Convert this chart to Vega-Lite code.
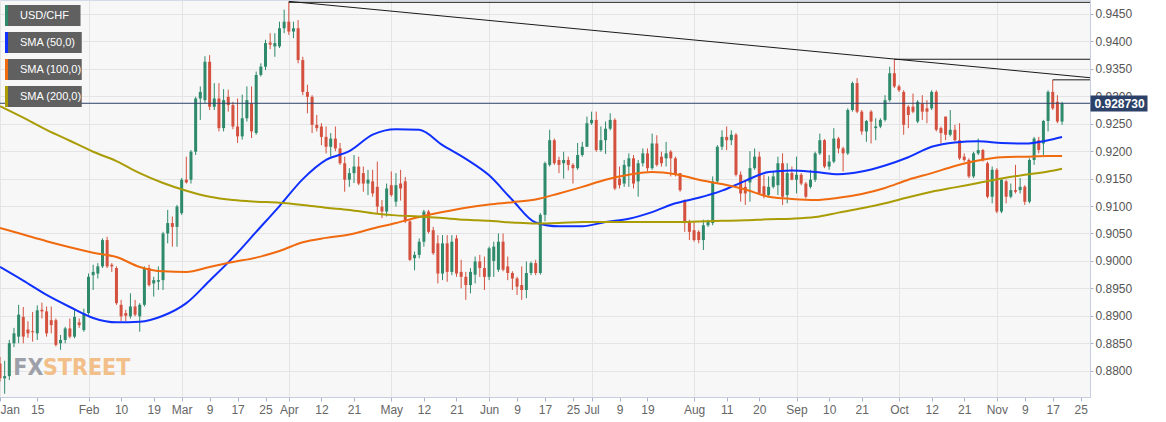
{
  "$schema": "https://vega.github.io/schema/vega-lite/v6.json",
  "width": 1090,
  "height": 397,
  "autosize": {"type": "none"},
  "padding": {"left": 0, "top": 0, "right": 76, "bottom": 25},
  "background": "#ffffff",
  "config": {
    "view": {"fill": "#f7f7f7", "stroke": "#d3d9e6"},
    "font": "Liberation Sans",
    "axis": {"labelFont": "Liberation Sans", "labelFontSize": 12, "labelColor": "#555555", "domainColor": "#c5cde0", "tickColor": "#aab3ca", "gridColor": "#e4e4e4"}
  },
  "resolve": {"axis": {"y": "independent"}},
  "datasets": {
    "ohlc": [
      {"d":"2021-01-05","o":0.8813,"h":0.8825,"l":0.8780,"c":0.8786},
      {"d":"2021-01-06","o":0.8786,"h":0.8818,"l":0.8758,"c":0.8790},
      {"d":"2021-01-07","o":0.8790,"h":0.8856,"l":0.8783,"c":0.8850},
      {"d":"2021-01-08","o":0.8850,"h":0.8878,"l":0.8843,"c":0.8868},
      {"d":"2021-01-11","o":0.8862,"h":0.8920,"l":0.8850,"c":0.8902},
      {"d":"2021-01-12","o":0.8898,"h":0.8916,"l":0.8850,"c":0.8862},
      {"d":"2021-01-13","o":0.8875,"h":0.8890,"l":0.8860,"c":0.8868},
      {"d":"2021-01-14","o":0.8872,"h":0.8907,"l":0.8853,"c":0.8870},
      {"d":"2021-01-15","o":0.8868,"h":0.8919,"l":0.8856,"c":0.8910},
      {"d":"2021-01-18","o":0.8911,"h":0.8924,"l":0.8895,"c":0.8908},
      {"d":"2021-01-19","o":0.8908,"h":0.8917,"l":0.8862,"c":0.8868},
      {"d":"2021-01-20","o":0.8892,"h":0.8917,"l":0.8868,"c":0.8883},
      {"d":"2021-01-21","o":0.8892,"h":0.8895,"l":0.8844,"c":0.8847},
      {"d":"2021-01-22","o":0.8850,"h":0.8865,"l":0.8838,"c":0.8856},
      {"d":"2021-01-25","o":0.8856,"h":0.8880,"l":0.8850,"c":0.8877},
      {"d":"2021-01-26","o":0.8877,"h":0.8895,"l":0.8859,"c":0.8862},
      {"d":"2021-01-27","o":0.8862,"h":0.8913,"l":0.8859,"c":0.8898},
      {"d":"2021-01-28","o":0.8888,"h":0.8895,"l":0.8878,"c":0.8883},
      {"d":"2021-01-29","o":0.8874,"h":0.8913,"l":0.8871,"c":0.8905},
      {"d":"2021-02-01","o":0.8905,"h":0.8977,"l":0.8902,"c":0.8971},
      {"d":"2021-02-02","o":0.8974,"h":0.8993,"l":0.8947,"c":0.8980},
      {"d":"2021-02-03","o":0.8977,"h":0.8996,"l":0.8968,"c":0.8990},
      {"d":"2021-02-04","o":0.8990,"h":0.9041,"l":0.8987,"c":0.9038},
      {"d":"2021-02-05","o":0.9038,"h":0.9044,"l":0.8987,"c":0.8990},
      {"d":"2021-02-08","o":0.8993,"h":0.8996,"l":0.8980,"c":0.8990},
      {"d":"2021-02-09","o":0.8987,"h":0.8990,"l":0.8920,"c":0.8923},
      {"d":"2021-02-10","o":0.8920,"h":0.8929,"l":0.8890,"c":0.8899},
      {"d":"2021-02-11","o":0.8905,"h":0.8911,"l":0.8890,"c":0.8900},
      {"d":"2021-02-12","o":0.8899,"h":0.8941,"l":0.8895,"c":0.8917},
      {"d":"2021-02-15","o":0.8917,"h":0.8929,"l":0.8899,"c":0.8902},
      {"d":"2021-02-16","o":0.8899,"h":0.8923,"l":0.8871,"c":0.8920},
      {"d":"2021-02-17","o":0.8920,"h":0.8990,"l":0.8917,"c":0.8987},
      {"d":"2021-02-18","o":0.8987,"h":0.8993,"l":0.8953,"c":0.8956},
      {"d":"2021-02-19","o":0.8959,"h":0.8971,"l":0.8935,"c":0.8965},
      {"d":"2021-02-22","o":0.8962,"h":0.8990,"l":0.8947,"c":0.8965},
      {"d":"2021-02-23","o":0.8965,"h":0.9053,"l":0.8947,"c":0.9050},
      {"d":"2021-02-24","o":0.9050,"h":0.9093,"l":0.9032,"c":0.9069},
      {"d":"2021-02-25","o":0.9069,"h":0.9081,"l":0.9026,"c":0.9062},
      {"d":"2021-02-26","o":0.9062,"h":0.9102,"l":0.9026,"c":0.9099},
      {"d":"2021-03-01","o":0.9087,"h":0.9151,"l":0.9084,"c":0.9148},
      {"d":"2021-03-02","o":0.9148,"h":0.9190,"l":0.9141,"c":0.9143},
      {"d":"2021-03-03","o":0.9148,"h":0.9202,"l":0.9141,"c":0.9199},
      {"d":"2021-03-04","o":0.9199,"h":0.9299,"l":0.9193,"c":0.9296},
      {"d":"2021-03-05","o":0.9296,"h":0.9318,"l":0.9257,"c":0.9308},
      {"d":"2021-03-08","o":0.9293,"h":0.9373,"l":0.9287,"c":0.9363},
      {"d":"2021-03-09","o":0.9363,"h":0.9375,"l":0.9275,"c":0.9281},
      {"d":"2021-03-10","o":0.9281,"h":0.9324,"l":0.9275,"c":0.9296},
      {"d":"2021-03-11","o":0.9296,"h":0.9324,"l":0.9236,"c":0.9242},
      {"d":"2021-03-12","o":0.9242,"h":0.9313,"l":0.9236,"c":0.9293},
      {"d":"2021-03-15","o":0.9299,"h":0.9312,"l":0.9272,"c":0.9284},
      {"d":"2021-03-16","o":0.9284,"h":0.9290,"l":0.9240,"c":0.9245},
      {"d":"2021-03-17","o":0.9245,"h":0.9296,"l":0.9215,"c":0.9227},
      {"d":"2021-03-18","o":0.9227,"h":0.9303,"l":0.9221,"c":0.9260},
      {"d":"2021-03-19","o":0.9260,"h":0.9318,"l":0.9254,"c":0.9293},
      {"d":"2021-03-22","o":0.9287,"h":0.9318,"l":0.9224,"c":0.9236},
      {"d":"2021-03-23","o":0.9233,"h":0.9345,"l":0.9230,"c":0.9339},
      {"d":"2021-03-24","o":0.9339,"h":0.9360,"l":0.9336,"c":0.9354},
      {"d":"2021-03-25","o":0.9354,"h":0.9403,"l":0.9348,"c":0.9397},
      {"d":"2021-03-26","o":0.9398,"h":0.9415,"l":0.9386,"c":0.9394},
      {"d":"2021-03-29","o":0.9391,"h":0.9415,"l":0.9372,"c":0.9397},
      {"d":"2021-03-30","o":0.9391,"h":0.9436,"l":0.9388,"c":0.9424},
      {"d":"2021-03-31","o":0.9424,"h":0.9458,"l":0.9415,"c":0.9436},
      {"d":"2021-04-01","o":0.9436,"h":0.9472,"l":0.9412,"c":0.9418},
      {"d":"2021-04-02","o":0.9418,"h":0.9436,"l":0.9406,"c":0.9424},
      {"d":"2021-04-05","o":0.9424,"h":0.9439,"l":0.9360,"c":0.9366},
      {"d":"2021-04-06","o":0.9366,"h":0.9372,"l":0.9302,"c":0.9308},
      {"d":"2021-04-07","o":0.9308,"h":0.9321,"l":0.9269,"c":0.9299},
      {"d":"2021-04-08","o":0.9299,"h":0.9302,"l":0.9233,"c":0.9248},
      {"d":"2021-04-09","o":0.9248,"h":0.9266,"l":0.9236,"c":0.9242},
      {"d":"2021-04-12","o":0.9245,"h":0.9251,"l":0.9211,"c":0.9226},
      {"d":"2021-04-13","o":0.9226,"h":0.9245,"l":0.9196,"c":0.9208},
      {"d":"2021-04-14","o":0.9208,"h":0.9233,"l":0.9190,"c":0.9223},
      {"d":"2021-04-15","o":0.9223,"h":0.9245,"l":0.9200,"c":0.9205},
      {"d":"2021-04-16","o":0.9205,"h":0.9215,"l":0.9175,"c":0.9178},
      {"d":"2021-04-19","o":0.9178,"h":0.9190,"l":0.9126,"c":0.9148},
      {"d":"2021-04-20","o":0.9148,"h":0.9169,"l":0.9135,"c":0.9160},
      {"d":"2021-04-21","o":0.9160,"h":0.9193,"l":0.9142,"c":0.9172},
      {"d":"2021-04-22","o":0.9172,"h":0.9190,"l":0.9138,"c":0.9141},
      {"d":"2021-04-23","o":0.9160,"h":0.9172,"l":0.9126,"c":0.9141},
      {"d":"2021-04-26","o":0.9141,"h":0.9166,"l":0.9120,"c":0.9148},
      {"d":"2021-04-27","o":0.9145,"h":0.9166,"l":0.9117,"c":0.9123},
      {"d":"2021-04-28","o":0.9135,"h":0.9181,"l":0.9087,"c":0.9099},
      {"d":"2021-04-29","o":0.9099,"h":0.9111,"l":0.9078,"c":0.9090},
      {"d":"2021-04-30","o":0.9090,"h":0.9141,"l":0.9081,"c":0.9132},
      {"d":"2021-05-03","o":0.9138,"h":0.9163,"l":0.9117,"c":0.9120},
      {"d":"2021-05-04","o":0.9108,"h":0.9160,"l":0.9099,"c":0.9138},
      {"d":"2021-05-05","o":0.9141,"h":0.9166,"l":0.9110,"c":0.9132},
      {"d":"2021-05-06","o":0.9145,"h":0.9153,"l":0.9069,"c":0.9072},
      {"d":"2021-05-07","o":0.9072,"h":0.9075,"l":0.9000,"c":0.9002},
      {"d":"2021-05-10","o":0.9005,"h":0.9017,"l":0.8983,"c":0.9011},
      {"d":"2021-05-11","o":0.9011,"h":0.9041,"l":0.9005,"c":0.9035},
      {"d":"2021-05-12","o":0.9035,"h":0.9093,"l":0.9026,"c":0.9090},
      {"d":"2021-05-13","o":0.9090,"h":0.9093,"l":0.9050,"c":0.9053},
      {"d":"2021-05-14","o":0.9056,"h":0.9062,"l":0.9011,"c":0.9014},
      {"d":"2021-05-17","o":0.9032,"h":0.9047,"l":0.8959,"c":0.8977},
      {"d":"2021-05-18","o":0.8977,"h":0.9047,"l":0.8965,"c":0.9032},
      {"d":"2021-05-19","o":0.9032,"h":0.9047,"l":0.8962,"c":0.8980},
      {"d":"2021-05-20","o":0.8980,"h":0.9047,"l":0.8974,"c":0.9035},
      {"d":"2021-05-21","o":0.9041,"h":0.9047,"l":0.8971,"c":0.8977},
      {"d":"2021-05-24","o":0.8980,"h":0.9002,"l":0.8950,"c":0.8971},
      {"d":"2021-05-25","o":0.8971,"h":0.8980,"l":0.8929,"c":0.8956},
      {"d":"2021-05-26","o":0.8956,"h":0.8987,"l":0.8941,"c":0.8980},
      {"d":"2021-05-27","o":0.8975,"h":0.9008,"l":0.8959,"c":0.8999},
      {"d":"2021-05-28","o":0.8999,"h":0.9011,"l":0.8971,"c":0.8987},
      {"d":"2021-05-31","o":0.8987,"h":0.9008,"l":0.8947,"c":0.8971},
      {"d":"2021-06-01","o":0.8971,"h":0.9026,"l":0.8965,"c":0.9023},
      {"d":"2021-06-02","o":0.9000,"h":0.9035,"l":0.8971,"c":0.9026},
      {"d":"2021-06-03","o":0.8984,"h":0.9050,"l":0.8980,"c":0.9035},
      {"d":"2021-06-04","o":0.9035,"h":0.9050,"l":0.8981,"c":0.8984},
      {"d":"2021-06-07","o":0.8990,"h":0.9008,"l":0.8965,"c":0.8978},
      {"d":"2021-06-08","o":0.8978,"h":0.8981,"l":0.8947,"c":0.8968},
      {"d":"2021-06-09","o":0.8968,"h":0.8971,"l":0.8938,"c":0.8953},
      {"d":"2021-06-10","o":0.8956,"h":0.8990,"l":0.8929,"c":0.8947},
      {"d":"2021-06-11","o":0.8947,"h":0.8999,"l":0.8932,"c":0.8978},
      {"d":"2021-06-14","o":0.8978,"h":0.8999,"l":0.8974,"c":0.8996},
      {"d":"2021-06-15","o":0.8996,"h":0.9002,"l":0.8974,"c":0.8978},
      {"d":"2021-06-16","o":0.8978,"h":0.9087,"l":0.8975,"c":0.9084},
      {"d":"2021-06-17","o":0.9084,"h":0.9181,"l":0.9072,"c":0.9178},
      {"d":"2021-06-18","o":0.9175,"h":0.9239,"l":0.9172,"c":0.9220},
      {"d":"2021-06-21","o":0.9220,"h":0.9223,"l":0.9175,"c":0.9178},
      {"d":"2021-06-22","o":0.9184,"h":0.9190,"l":0.9160,"c":0.9175},
      {"d":"2021-06-23","o":0.9178,"h":0.9199,"l":0.9150,"c":0.9184},
      {"d":"2021-06-24","o":0.9184,"h":0.9190,"l":0.9165,"c":0.9175},
      {"d":"2021-06-25","o":0.9175,"h":0.9178,"l":0.9141,"c":0.9169},
      {"d":"2021-06-28","o":0.9169,"h":0.9215,"l":0.9166,"c":0.9193},
      {"d":"2021-06-29","o":0.9193,"h":0.9217,"l":0.9190,"c":0.9208},
      {"d":"2021-06-30","o":0.9208,"h":0.9263,"l":0.9208,"c":0.9251},
      {"d":"2021-07-01","o":0.9251,"h":0.9272,"l":0.9248,"c":0.9257},
      {"d":"2021-07-02","o":0.9257,"h":0.9272,"l":0.9199,"c":0.9202},
      {"d":"2021-07-05","o":0.9202,"h":0.9245,"l":0.9199,"c":0.9220},
      {"d":"2021-07-06","o":0.9220,"h":0.9254,"l":0.9195,"c":0.9241},
      {"d":"2021-07-07","o":0.9241,"h":0.9269,"l":0.9238,"c":0.9257},
      {"d":"2021-07-08","o":0.9257,"h":0.9260,"l":0.9129,"c":0.9132},
      {"d":"2021-07-09","o":0.9150,"h":0.9172,"l":0.9132,"c":0.9138},
      {"d":"2021-07-12","o":0.9141,"h":0.9184,"l":0.9135,"c":0.9175},
      {"d":"2021-07-13","o":0.9172,"h":0.9196,"l":0.9135,"c":0.9187},
      {"d":"2021-07-14","o":0.9187,"h":0.9193,"l":0.9132,"c":0.9141},
      {"d":"2021-07-15","o":0.9145,"h":0.9184,"l":0.9117,"c":0.9178},
      {"d":"2021-07-16","o":0.9178,"h":0.9205,"l":0.9172,"c":0.9196},
      {"d":"2021-07-19","o":0.9196,"h":0.9205,"l":0.9163,"c":0.9169},
      {"d":"2021-07-20","o":0.9169,"h":0.9232,"l":0.9166,"c":0.9214},
      {"d":"2021-07-21","o":0.9214,"h":0.9229,"l":0.9172,"c":0.9175},
      {"d":"2021-07-22","o":0.9190,"h":0.9199,"l":0.9172,"c":0.9178},
      {"d":"2021-07-23","o":0.9187,"h":0.9217,"l":0.9172,"c":0.9196},
      {"d":"2021-07-26","o":0.9199,"h":0.9202,"l":0.9154,"c":0.9187},
      {"d":"2021-07-27","o":0.9187,"h":0.9190,"l":0.9154,"c":0.9157},
      {"d":"2021-07-28","o":0.9160,"h":0.9160,"l":0.9126,"c":0.9129},
      {"d":"2021-07-29","o":0.9110,"h":0.9112,"l":0.9053,"c":0.9069},
      {"d":"2021-07-30","o":0.9072,"h":0.9075,"l":0.9038,"c":0.9053},
      {"d":"2021-08-02","o":0.9056,"h":0.9071,"l":0.9035,"c":0.9038},
      {"d":"2021-08-03","o":0.9053,"h":0.9056,"l":0.9032,"c":0.9038},
      {"d":"2021-08-04","o":0.9038,"h":0.9075,"l":0.9020,"c":0.9065},
      {"d":"2021-08-05","o":0.9065,"h":0.9075,"l":0.9062,"c":0.9071},
      {"d":"2021-08-06","o":0.9069,"h":0.9154,"l":0.9065,"c":0.9145},
      {"d":"2021-08-09","o":0.9145,"h":0.9211,"l":0.9141,"c":0.9208},
      {"d":"2021-08-10","o":0.9208,"h":0.9238,"l":0.9202,"c":0.9226},
      {"d":"2021-08-11","o":0.9226,"h":0.9245,"l":0.9202,"c":0.9220},
      {"d":"2021-08-12","o":0.9220,"h":0.9238,"l":0.9211,"c":0.9230},
      {"d":"2021-08-13","o":0.9230,"h":0.9233,"l":0.9154,"c":0.9157},
      {"d":"2021-08-16","o":0.9157,"h":0.9163,"l":0.9108,"c":0.9123},
      {"d":"2021-08-17","o":0.9135,"h":0.9148,"l":0.9102,"c":0.9123},
      {"d":"2021-08-18","o":0.9143,"h":0.9200,"l":0.9108,"c":0.9169},
      {"d":"2021-08-19","o":0.9169,"h":0.9205,"l":0.9166,"c":0.9190},
      {"d":"2021-08-20","o":0.9190,"h":0.9199,"l":0.9120,"c":0.9123},
      {"d":"2021-08-23","o":0.9136,"h":0.9157,"l":0.9114,"c":0.9120},
      {"d":"2021-08-24","o":0.9120,"h":0.9154,"l":0.9117,"c":0.9135},
      {"d":"2021-08-25","o":0.9135,"h":0.9163,"l":0.9132,"c":0.9154},
      {"d":"2021-08-26","o":0.9138,"h":0.9190,"l":0.9120,"c":0.9178},
      {"d":"2021-08-27","o":0.9178,"h":0.9196,"l":0.9102,"c":0.9117},
      {"d":"2021-08-30","o":0.9120,"h":0.9178,"l":0.9105,"c":0.9160},
      {"d":"2021-08-31","o":0.9160,"h":0.9172,"l":0.9147,"c":0.9148},
      {"d":"2021-09-01","o":0.9148,"h":0.9190,"l":0.9123,"c":0.9157},
      {"d":"2021-09-02","o":0.9157,"h":0.9160,"l":0.9138,"c":0.9141},
      {"d":"2021-09-03","o":0.9141,"h":0.9144,"l":0.9114,"c":0.9117},
      {"d":"2021-09-06","o":0.9135,"h":0.9166,"l":0.9132,"c":0.9148},
      {"d":"2021-09-07","o":0.9148,"h":0.9199,"l":0.9144,"c":0.9196},
      {"d":"2021-09-08","o":0.9196,"h":0.9232,"l":0.9193,"c":0.9220},
      {"d":"2021-09-09","o":0.9220,"h":0.9222,"l":0.9169,"c":0.9172},
      {"d":"2021-09-10","o":0.9172,"h":0.9193,"l":0.9166,"c":0.9181},
      {"d":"2021-09-13","o":0.9181,"h":0.9242,"l":0.9178,"c":0.9223},
      {"d":"2021-09-14","o":0.9223,"h":0.9226,"l":0.9196,"c":0.9205},
      {"d":"2021-09-15","o":0.9205,"h":0.9208,"l":0.9163,"c":0.9196},
      {"d":"2021-09-16","o":0.9196,"h":0.9278,"l":0.9193,"c":0.9275},
      {"d":"2021-09-17","o":0.9275,"h":0.9327,"l":0.9272,"c":0.9324},
      {"d":"2021-09-20","o":0.9324,"h":0.9333,"l":0.9269,"c":0.9272},
      {"d":"2021-09-21","o":0.9272,"h":0.9275,"l":0.9230,"c":0.9236},
      {"d":"2021-09-22","o":0.9236,"h":0.9257,"l":0.9217,"c":0.9255},
      {"d":"2021-09-23","o":0.9272,"h":0.9275,"l":0.9214,"c":0.9254},
      {"d":"2021-09-24","o":0.9242,"h":0.9260,"l":0.9220,"c":0.9245},
      {"d":"2021-09-27","o":0.9245,"h":0.9260,"l":0.9242,"c":0.9257},
      {"d":"2021-09-28","o":0.9257,"h":0.9302,"l":0.9254,"c":0.9293},
      {"d":"2021-09-29","o":0.9293,"h":0.9354,"l":0.9290,"c":0.9342},
      {"d":"2021-09-30","o":0.9342,"h":0.9367,"l":0.9315,"c":0.9318},
      {"d":"2021-10-01","o":0.9318,"h":0.9321,"l":0.9308,"c":0.9311},
      {"d":"2021-10-04","o":0.9308,"h":0.9311,"l":0.9230,"c":0.9248},
      {"d":"2021-10-05","o":0.9281,"h":0.9284,"l":0.9242,"c":0.9266},
      {"d":"2021-10-06","o":0.9281,"h":0.9305,"l":0.9269,"c":0.9272},
      {"d":"2021-10-07","o":0.9254,"h":0.9293,"l":0.9251,"c":0.9290},
      {"d":"2021-10-08","o":0.9287,"h":0.9302,"l":0.9257,"c":0.9272},
      {"d":"2021-10-11","o":0.9278,"h":0.9293,"l":0.9251,"c":0.9272},
      {"d":"2021-10-12","o":0.9278,"h":0.9311,"l":0.9275,"c":0.9308},
      {"d":"2021-10-13","o":0.9308,"h":0.9311,"l":0.9236,"c":0.9239},
      {"d":"2021-10-14","o":0.9242,"h":0.9245,"l":0.9214,"c":0.9233},
      {"d":"2021-10-15","o":0.9263,"h":0.9263,"l":0.9220,"c":0.9230},
      {"d":"2021-10-18","o":0.9230,"h":0.9275,"l":0.9227,"c":0.9239},
      {"d":"2021-10-19","o":0.9239,"h":0.9248,"l":0.9218,"c":0.9220},
      {"d":"2021-10-20","o":0.9220,"h":0.9251,"l":0.9184,"c":0.9187},
      {"d":"2021-10-21","o":0.9190,"h":0.9196,"l":0.9181,"c":0.9184},
      {"d":"2021-10-22","o":0.9184,"h":0.9187,"l":0.9151,"c":0.9154},
      {"d":"2021-10-25","o":0.9154,"h":0.9199,"l":0.9151,"c":0.9196},
      {"d":"2021-10-26","o":0.9196,"h":0.9223,"l":0.9193,"c":0.9202},
      {"d":"2021-10-27","o":0.9202,"h":0.9204,"l":0.9181,"c":0.9184},
      {"d":"2021-10-28","o":0.9178,"h":0.9181,"l":0.9114,"c":0.9117},
      {"d":"2021-10-29","o":0.9117,"h":0.9172,"l":0.9105,"c":0.9166},
      {"d":"2021-11-01","o":0.9166,"h":0.9169,"l":0.9087,"c":0.9090},
      {"d":"2021-11-02","o":0.9090,"h":0.9151,"l":0.9087,"c":0.9148},
      {"d":"2021-11-03","o":0.9145,"h":0.9148,"l":0.9105,"c":0.9117},
      {"d":"2021-11-04","o":0.9117,"h":0.9141,"l":0.9114,"c":0.9129},
      {"d":"2021-11-05","o":0.9129,"h":0.9175,"l":0.9123,"c":0.9126},
      {"d":"2021-11-08","o":0.9129,"h":0.9151,"l":0.9123,"c":0.9135},
      {"d":"2021-11-09","o":0.9135,"h":0.9138,"l":0.9102,"c":0.9108},
      {"d":"2021-11-10","o":0.9108,"h":0.9187,"l":0.9105,"c":0.9184},
      {"d":"2021-11-11","o":0.9184,"h":0.9226,"l":0.9175,"c":0.9223},
      {"d":"2021-11-12","o":0.9220,"h":0.9226,"l":0.9196,"c":0.9202},
      {"d":"2021-11-15","o":0.9214,"h":0.9257,"l":0.9193,"c":0.9255},
      {"d":"2021-11-16","o":0.9255,"h":0.9311,"l":0.9236,"c":0.9308},
      {"d":"2021-11-17","o":0.9308,"h":0.9330,"l":0.9275,"c":0.9278},
      {"d":"2021-11-18","o":0.9290,"h":0.9302,"l":0.9251,"c":0.9254},
      {"d":"2021-11-19","o":0.9254,"h":0.9290,"l":0.9248,"c":0.92873}
    ],
    "sma": [
      {"d":"2021-01-05","s":"SMA (50,0)","v":0.8989},{"d":"2021-01-12","s":"SMA (50,0)","v":0.8964},{"d":"2021-01-19","s":"SMA (50,0)","v":0.8938},{"d":"2021-01-26","s":"SMA (50,0)","v":0.8916},{"d":"2021-02-02","s":"SMA (50,0)","v":0.8896},{"d":"2021-02-09","s":"SMA (50,0)","v":0.8888},{"d":"2021-02-16","s":"SMA (50,0)","v":0.8889},{"d":"2021-02-23","s":"SMA (50,0)","v":0.8900},{"d":"2021-03-02","s":"SMA (50,0)","v":0.8923},{"d":"2021-03-09","s":"SMA (50,0)","v":0.8964},{"d":"2021-03-16","s":"SMA (50,0)","v":0.9006},{"d":"2021-03-23","s":"SMA (50,0)","v":0.9053},{"d":"2021-03-30","s":"SMA (50,0)","v":0.9100},{"d":"2021-04-06","s":"SMA (50,0)","v":0.9149},{"d":"2021-04-13","s":"SMA (50,0)","v":0.9184},{"d":"2021-04-20","s":"SMA (50,0)","v":0.9200},{"d":"2021-04-27","s":"SMA (50,0)","v":0.9230},{"d":"2021-05-04","s":"SMA (50,0)","v":0.9240},{"d":"2021-05-11","s":"SMA (50,0)","v":0.9239},{"d":"2021-05-18","s":"SMA (50,0)","v":0.9211},{"d":"2021-05-25","s":"SMA (50,0)","v":0.9186},{"d":"2021-06-01","s":"SMA (50,0)","v":0.9156},{"d":"2021-06-08","s":"SMA (50,0)","v":0.9111},{"d":"2021-06-15","s":"SMA (50,0)","v":0.9070},{"d":"2021-06-22","s":"SMA (50,0)","v":0.9063},{"d":"2021-06-29","s":"SMA (50,0)","v":0.9063},{"d":"2021-07-06","s":"SMA (50,0)","v":0.9071},{"d":"2021-07-13","s":"SMA (50,0)","v":0.9077},{"d":"2021-07-20","s":"SMA (50,0)","v":0.9089},{"d":"2021-07-27","s":"SMA (50,0)","v":0.9105},{"d":"2021-08-03","s":"SMA (50,0)","v":0.9115},{"d":"2021-08-10","s":"SMA (50,0)","v":0.9128},{"d":"2021-08-17","s":"SMA (50,0)","v":0.9146},{"d":"2021-08-24","s":"SMA (50,0)","v":0.9162},{"d":"2021-08-31","s":"SMA (50,0)","v":0.9165},{"d":"2021-09-07","s":"SMA (50,0)","v":0.9162},{"d":"2021-09-14","s":"SMA (50,0)","v":0.9158},{"d":"2021-09-21","s":"SMA (50,0)","v":0.9163},{"d":"2021-09-28","s":"SMA (50,0)","v":0.9174},{"d":"2021-10-05","s":"SMA (50,0)","v":0.9189},{"d":"2021-10-12","s":"SMA (50,0)","v":0.9208},{"d":"2021-10-19","s":"SMA (50,0)","v":0.9216},{"d":"2021-10-26","s":"SMA (50,0)","v":0.9218},{"d":"2021-11-02","s":"SMA (50,0)","v":0.9215},{"d":"2021-11-09","s":"SMA (50,0)","v":0.9214},{"d":"2021-11-16","s":"SMA (50,0)","v":0.9220},{"d":"2021-11-19","s":"SMA (50,0)","v":0.9226},
      {"d":"2021-01-05","s":"SMA (100,0)","v":0.9060},{"d":"2021-01-12","s":"SMA (100,0)","v":0.9048},{"d":"2021-01-19","s":"SMA (100,0)","v":0.9036},{"d":"2021-01-26","s":"SMA (100,0)","v":0.9025},{"d":"2021-02-02","s":"SMA (100,0)","v":0.9015},{"d":"2021-02-09","s":"SMA (100,0)","v":0.9007},{"d":"2021-02-16","s":"SMA (100,0)","v":0.8989},{"d":"2021-02-23","s":"SMA (100,0)","v":0.8981},{"d":"2021-03-02","s":"SMA (100,0)","v":0.8980},{"d":"2021-03-09","s":"SMA (100,0)","v":0.8989},{"d":"2021-03-16","s":"SMA (100,0)","v":0.8998},{"d":"2021-03-23","s":"SMA (100,0)","v":0.9006},{"d":"2021-03-30","s":"SMA (100,0)","v":0.9018},{"d":"2021-04-06","s":"SMA (100,0)","v":0.9034},{"d":"2021-04-13","s":"SMA (100,0)","v":0.9042},{"d":"2021-04-20","s":"SMA (100,0)","v":0.9048},{"d":"2021-04-27","s":"SMA (100,0)","v":0.9059},{"d":"2021-05-04","s":"SMA (100,0)","v":0.9069},{"d":"2021-05-11","s":"SMA (100,0)","v":0.9080},{"d":"2021-05-18","s":"SMA (100,0)","v":0.9089},{"d":"2021-05-25","s":"SMA (100,0)","v":0.9097},{"d":"2021-06-01","s":"SMA (100,0)","v":0.9103},{"d":"2021-06-08","s":"SMA (100,0)","v":0.9107},{"d":"2021-06-15","s":"SMA (100,0)","v":0.9112},{"d":"2021-06-22","s":"SMA (100,0)","v":0.9123},{"d":"2021-06-29","s":"SMA (100,0)","v":0.9135},{"d":"2021-07-06","s":"SMA (100,0)","v":0.9148},{"d":"2021-07-13","s":"SMA (100,0)","v":0.9157},{"d":"2021-07-20","s":"SMA (100,0)","v":0.9162},{"d":"2021-07-27","s":"SMA (100,0)","v":0.9158},{"d":"2021-08-03","s":"SMA (100,0)","v":0.9148},{"d":"2021-08-10","s":"SMA (100,0)","v":0.9140},{"d":"2021-08-17","s":"SMA (100,0)","v":0.9130},{"d":"2021-08-24","s":"SMA (100,0)","v":0.9117},{"d":"2021-08-31","s":"SMA (100,0)","v":0.9113},{"d":"2021-09-07","s":"SMA (100,0)","v":0.9111},{"d":"2021-09-14","s":"SMA (100,0)","v":0.9115},{"d":"2021-09-21","s":"SMA (100,0)","v":0.9122},{"d":"2021-09-28","s":"SMA (100,0)","v":0.9133},{"d":"2021-10-05","s":"SMA (100,0)","v":0.9148},{"d":"2021-10-12","s":"SMA (100,0)","v":0.9160},{"d":"2021-10-19","s":"SMA (100,0)","v":0.9173},{"d":"2021-10-26","s":"SMA (100,0)","v":0.9183},{"d":"2021-11-02","s":"SMA (100,0)","v":0.9189},{"d":"2021-11-09","s":"SMA (100,0)","v":0.9190},{"d":"2021-11-16","s":"SMA (100,0)","v":0.9191},{"d":"2021-11-19","s":"SMA (100,0)","v":0.9191},
      {"d":"2021-01-05","s":"SMA (200,0)","v":0.9282},{"d":"2021-01-12","s":"SMA (200,0)","v":0.9261},{"d":"2021-01-19","s":"SMA (200,0)","v":0.9239},{"d":"2021-01-26","s":"SMA (200,0)","v":0.9219},{"d":"2021-02-02","s":"SMA (200,0)","v":0.9199},{"d":"2021-02-09","s":"SMA (200,0)","v":0.9182},{"d":"2021-02-16","s":"SMA (200,0)","v":0.9160},{"d":"2021-02-23","s":"SMA (200,0)","v":0.9142},{"d":"2021-03-02","s":"SMA (200,0)","v":0.9128},{"d":"2021-03-09","s":"SMA (200,0)","v":0.9117},{"d":"2021-03-16","s":"SMA (200,0)","v":0.9111},{"d":"2021-03-23","s":"SMA (200,0)","v":0.9108},{"d":"2021-03-30","s":"SMA (200,0)","v":0.9106},{"d":"2021-04-06","s":"SMA (200,0)","v":0.9102},{"d":"2021-04-13","s":"SMA (200,0)","v":0.9097},{"d":"2021-04-20","s":"SMA (200,0)","v":0.9093},{"d":"2021-04-27","s":"SMA (200,0)","v":0.9087},{"d":"2021-05-04","s":"SMA (200,0)","v":0.9083},{"d":"2021-05-11","s":"SMA (200,0)","v":0.9081},{"d":"2021-05-18","s":"SMA (200,0)","v":0.9078},{"d":"2021-05-25","s":"SMA (200,0)","v":0.9075},{"d":"2021-06-01","s":"SMA (200,0)","v":0.9073},{"d":"2021-06-08","s":"SMA (200,0)","v":0.9070},{"d":"2021-06-15","s":"SMA (200,0)","v":0.9068},{"d":"2021-06-22","s":"SMA (200,0)","v":0.9069},{"d":"2021-06-29","s":"SMA (200,0)","v":0.9071},{"d":"2021-07-06","s":"SMA (200,0)","v":0.9071},{"d":"2021-07-13","s":"SMA (200,0)","v":0.9071},{"d":"2021-07-20","s":"SMA (200,0)","v":0.9071},{"d":"2021-07-27","s":"SMA (200,0)","v":0.9071},{"d":"2021-08-03","s":"SMA (200,0)","v":0.9072},{"d":"2021-08-10","s":"SMA (200,0)","v":0.9073},{"d":"2021-08-17","s":"SMA (200,0)","v":0.9074},{"d":"2021-08-24","s":"SMA (200,0)","v":0.9076},{"d":"2021-08-31","s":"SMA (200,0)","v":0.9077},{"d":"2021-09-07","s":"SMA (200,0)","v":0.9080},{"d":"2021-09-14","s":"SMA (200,0)","v":0.9088},{"d":"2021-09-21","s":"SMA (200,0)","v":0.9096},{"d":"2021-09-28","s":"SMA (200,0)","v":0.9105},{"d":"2021-10-05","s":"SMA (200,0)","v":0.9116},{"d":"2021-10-12","s":"SMA (200,0)","v":0.9126},{"d":"2021-10-19","s":"SMA (200,0)","v":0.9134},{"d":"2021-10-26","s":"SMA (200,0)","v":0.9142},{"d":"2021-11-02","s":"SMA (200,0)","v":0.9150},{"d":"2021-11-09","s":"SMA (200,0)","v":0.9157},{"d":"2021-11-16","s":"SMA (200,0)","v":0.9163},{"d":"2021-11-19","s":"SMA (200,0)","v":0.9168}
    ],
    "tl": [
      {"d":"2021-04-01","d2":"2021-11-29","v":0.9473,"v2":0.93339},
      {"d":"2021-04-01","d2":"2021-11-29","v":0.94713,"v2":0.94713},
      {"d":"2021-09-30","d2":"2021-11-29","v":0.93675,"v2":0.93675},
      {"d":"2021-11-17","d2":"2021-11-29","v":0.9330,"v2":0.9330}
    ],
    "px": [{"d":"2021-01-05","d2":"2021-11-29","v":0.92873}],
    "wm": [
      {"d":"2021-01-07","v":0.8792,"t":"FX"},
      {"d":"2021-01-18","v":0.8792,"t":"STREET"}
    ]
  },
  "encoding": {
    "x": {
      "field": "d", "type": "ordinal", "title": null,
      "scale": {"type": "point", "padding": 0, "domain": [
        "2021-01-05","2021-01-06","2021-01-07","2021-01-08","2021-01-11","2021-01-12","2021-01-13","2021-01-14","2021-01-15","2021-01-18","2021-01-19","2021-01-20","2021-01-21","2021-01-22","2021-01-25","2021-01-26","2021-01-27","2021-01-28","2021-01-29",
        "2021-02-01","2021-02-02","2021-02-03","2021-02-04","2021-02-05","2021-02-08","2021-02-09","2021-02-10","2021-02-11","2021-02-12","2021-02-15","2021-02-16","2021-02-17","2021-02-18","2021-02-19","2021-02-22","2021-02-23","2021-02-24","2021-02-25","2021-02-26",
        "2021-03-01","2021-03-02","2021-03-03","2021-03-04","2021-03-05","2021-03-08","2021-03-09","2021-03-10","2021-03-11","2021-03-12","2021-03-15","2021-03-16","2021-03-17","2021-03-18","2021-03-19","2021-03-22","2021-03-23","2021-03-24","2021-03-25","2021-03-26","2021-03-29","2021-03-30","2021-03-31",
        "2021-04-01","2021-04-02","2021-04-05","2021-04-06","2021-04-07","2021-04-08","2021-04-09","2021-04-12","2021-04-13","2021-04-14","2021-04-15","2021-04-16","2021-04-19","2021-04-20","2021-04-21","2021-04-22","2021-04-23","2021-04-26","2021-04-27","2021-04-28","2021-04-29","2021-04-30",
        "2021-05-03","2021-05-04","2021-05-05","2021-05-06","2021-05-07","2021-05-10","2021-05-11","2021-05-12","2021-05-13","2021-05-14","2021-05-17","2021-05-18","2021-05-19","2021-05-20","2021-05-21","2021-05-24","2021-05-25","2021-05-26","2021-05-27","2021-05-28","2021-05-31",
        "2021-06-01","2021-06-02","2021-06-03","2021-06-04","2021-06-07","2021-06-08","2021-06-09","2021-06-10","2021-06-11","2021-06-14","2021-06-15","2021-06-16","2021-06-17","2021-06-18","2021-06-21","2021-06-22","2021-06-23","2021-06-24","2021-06-25","2021-06-28","2021-06-29","2021-06-30",
        "2021-07-01","2021-07-02","2021-07-05","2021-07-06","2021-07-07","2021-07-08","2021-07-09","2021-07-12","2021-07-13","2021-07-14","2021-07-15","2021-07-16","2021-07-19","2021-07-20","2021-07-21","2021-07-22","2021-07-23","2021-07-26","2021-07-27","2021-07-28","2021-07-29","2021-07-30",
        "2021-08-02","2021-08-03","2021-08-04","2021-08-05","2021-08-06","2021-08-09","2021-08-10","2021-08-11","2021-08-12","2021-08-13","2021-08-16","2021-08-17","2021-08-18","2021-08-19","2021-08-20","2021-08-23","2021-08-24","2021-08-25","2021-08-26","2021-08-27","2021-08-30","2021-08-31",
        "2021-09-01","2021-09-02","2021-09-03","2021-09-06","2021-09-07","2021-09-08","2021-09-09","2021-09-10","2021-09-13","2021-09-14","2021-09-15","2021-09-16","2021-09-17","2021-09-20","2021-09-21","2021-09-22","2021-09-23","2021-09-24","2021-09-27","2021-09-28","2021-09-29","2021-09-30",
        "2021-10-01","2021-10-04","2021-10-05","2021-10-06","2021-10-07","2021-10-08","2021-10-11","2021-10-12","2021-10-13","2021-10-14","2021-10-15","2021-10-18","2021-10-19","2021-10-20","2021-10-21","2021-10-22","2021-10-25","2021-10-26","2021-10-27","2021-10-28","2021-10-29",
        "2021-11-01","2021-11-02","2021-11-03","2021-11-04","2021-11-05","2021-11-08","2021-11-09","2021-11-10","2021-11-11","2021-11-12","2021-11-15","2021-11-16","2021-11-17","2021-11-18","2021-11-19","2021-11-22","2021-11-23","2021-11-24","2021-11-25","2021-11-26","2021-11-29"
      ]},
      "axis": {
        "values": ["2021-01-05","2021-01-15","2021-02-01","2021-02-10","2021-02-19","2021-03-01","2021-03-09","2021-03-17","2021-03-25","2021-04-01","2021-04-12","2021-04-21","2021-05-03","2021-05-12","2021-05-21","2021-06-01","2021-06-09","2021-06-17","2021-06-25","2021-07-01","2021-07-09","2021-07-19","2021-08-02","2021-08-11","2021-08-20","2021-09-01","2021-09-10","2021-09-21","2021-10-01","2021-10-12","2021-10-21","2021-11-01","2021-11-09","2021-11-17","2021-11-25"],
        "labelExpr": "utcdate(toDate(datum.value)) <= 5 ? utcFormat(toDate(datum.value), '%b') : utcFormat(toDate(datum.value), '%-d')",
        "labelAngle": 0,
        "labelOverlap": false,
        "labelFlush": true,
        "labelColor": "#666666",
        "labelPadding": 3,
        "tickSize": 4,
        "grid": true,
        "gridOpacity": {"condition": {"test": "utcdate(toDate(datum.value)) <= 5", "value": 1}, "value": 0}
      }
    }
  },
  "layer": [
    {
      "data": {"name": "wm"},
      "transform": [{"filter": "datum.t == 'FX'"}],
      "mark": {"type": "text", "align": "left", "baseline": "alphabetic", "dx": 4, "font": "Liberation Sans Narrow, DejaVu Sans Condensed", "fontWeight": "bold", "fontSize": 23, "color": "#9ea0a9"},
      "encoding": {"y": {"field": "v", "type": "quantitative", "title": null, "axis": null}, "text": {"field": "t"}}
    },
    {
      "data": {"name": "wm"},
      "transform": [{"filter": "datum.t == 'STREET'"}],
      "mark": {"type": "text", "align": "left", "baseline": "alphabetic", "dx": 1, "font": "Liberation Sans Narrow, DejaVu Sans Condensed", "fontWeight": "bold", "fontSize": 23, "color": "#f2bf88"},
      "encoding": {"y": {"field": "v", "type": "quantitative", "title": null, "axis": null}, "text": {"field": "t"}}
    },
    {
      "data": {"name": "ohlc"},
      "mark": {"type": "rule", "strokeWidth": 1},
      "encoding": {
        "y": {
          "field": "l", "type": "quantitative", "title": null,
          "scale": {"domain": [0.8752, 0.94755], "nice": false, "zero": false},
          "axis": {
            "orient": "right",
            "values": [0.88, 0.885, 0.89, 0.895, 0.9, 0.905, 0.91, 0.915, 0.92, 0.925, 0.93, 0.935, 0.94, 0.945],
            "format": ".4f",
            "labelOverlap": false,
            "labelFlush": false,
            "grid": true,
            "tickSize": 3,
            "labelPadding": 2
          }
        },
        "y2": {"field": "h"},
        "color": {"condition": {"test": "datum.c >= datum.o", "value": "#2e8a6b"}, "value": "#d4513f"}
      }
    },
    {
      "data": {"name": "ohlc"},
      "mark": {"type": "bar", "width": 3},
      "encoding": {
        "y": {"field": "o", "type": "quantitative", "title": null, "axis": null},
        "y2": {"field": "c"},
        "color": {"condition": {"test": "datum.c >= datum.o", "value": "#2e8a6b"}, "value": "#d4513f"}
      }
    },
    {
      "data": {"name": "sma"},
      "mark": {"type": "line", "interpolate": "monotone", "strokeWidth": 2},
      "encoding": {
        "y": {"field": "v", "type": "quantitative", "title": null, "axis": null},
        "color": {
          "field": "s", "type": "nominal",
          "scale": {"domain": ["USD/CHF", "SMA (50,0)", "SMA (100,0)", "SMA (200,0)"], "range": ["#2e8a6b", "#1030ff", "#f06a10", "#aa9c05"]},
          "legend": {
            "title": null,
            "orient": "top-left",
            "offset": 5,
            "padding": 0,
            "rowPadding": 6,
            "clipHeight": 21,
            "symbolType": "M-1,-1L-1,1L7.67,1L7.67,-1Z",
            "symbolSize": 441,
            "symbolStrokeWidth": 3,
            "symbolDash": [21, 2000],
            "symbolFillColor": "#606060",
            "symbolOpacity": 1,
            "labelFont": "Liberation Sans",
            "labelFontSize": 11,
            "labelColor": "#ffffff",
            "labelOffset": -9,
            "encode": {
              "symbols": {
                "update": {
                  "fill": {"value": "#606060"},
                  "fillOpacity": {"value": 1},
                  "shape": [
                    {"test": "datum.value === 'USD/CHF'", "value": "M-1,-1L-1,1L6.05,1L6.05,-1Z"},
                    {"test": "datum.value === 'SMA (50,0)'", "value": "M-1,-1L-1,1L7.1,1L7.1,-1Z"},
                    {"value": "M-1,-1L-1,1L7.67,1L7.67,-1Z"}
                  ]
                }
              }
            }
          }
        }
      }
    },
    {
      "data": {"name": "tl"},
      "mark": {"type": "rule", "color": "#1a1a1a", "strokeWidth": 1},
      "encoding": {
        "x2": {"field": "d2"},
        "y": {"field": "v", "type": "quantitative", "title": null, "axis": null},
        "y2": {"field": "v2"}
      }
    },
    {
      "data": {"name": "px"},
      "mark": {"type": "rule", "color": "#2b4168", "strokeWidth": 1},
      "encoding": {
        "x2": {"field": "d2"},
        "y": {
          "field": "v", "type": "quantitative", "title": null,
          "axis": {
            "orient": "right",
            "values": [0.92873],
            "labelExpr": "'0.928730'",
            "domain": false,
            "grid": false,
            "tickSize": 57,
            "tickWidth": 16,
            "tickColor": "#2b4168",
            "labelColor": "#ffffff",
            "labelFontWeight": "bold",
            "labelFontSize": 12,
            "labelPadding": -53,
            "labelOverlap": false,
            "labelFlush": false,
            "zindex": 2
          }
        }
      }
    }
  ]
}
